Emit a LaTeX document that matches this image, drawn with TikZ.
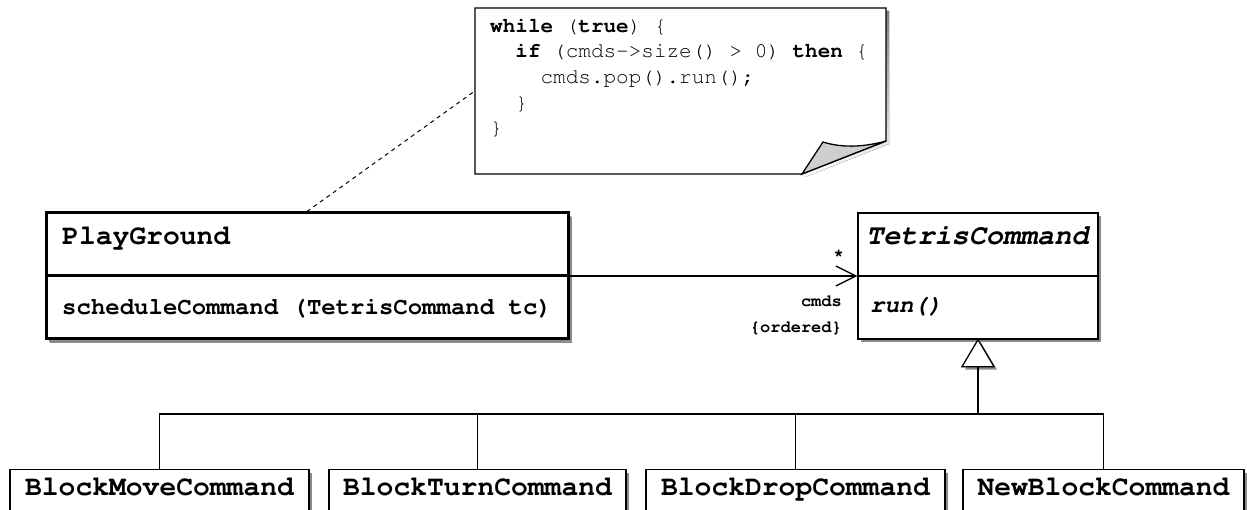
\documentclass[tikz,border=0pt]{standalone}
\usepackage[T1]{fontenc}
\usepackage{courier}
\usetikzlibrary{arrows.meta,shadows}

\definecolor{shade}{HTML}{8A8A8A}
\definecolor{fold}{HTML}{CFCFCF}

\tikzset{
  boxshadow/.style={drop shadow={shadow xshift=3pt,shadow yshift=-3pt,fill=shade,opacity=1}},
  classbox/.style={draw, line width=1.3pt, fill=white, boxshadow, inner sep=0pt},
  mainbox/.style={classbox, line width=3pt, drop shadow={shadow xshift=4pt,shadow yshift=-4pt,fill=shade,opacity=1}},
  subbox/.style={classbox, anchor=north, inner xsep=0pt, inner ysep=9pt, text height=17pt, text depth=40pt,
    font=\ttfamily\bfseries\fontsize{28}{30}\selectfont},
  clsname/.style={anchor=base west, inner sep=0pt, font=\ttfamily\bfseries\fontsize{28}{30}\selectfont},
  opname/.style={anchor=base west, inner sep=0pt, font=\ttfamily\bfseries\fontsize{24}{26}\selectfont},
  codeline/.style={anchor=base west, inner sep=0pt, font=\ttfamily\fontsize{21}{25}\selectfont},
  rolelabel/.style={anchor=base east, inner sep=0pt, font=\ttfamily\bfseries\fontsize{17}{19}\selectfont}
}

\begin{document}
\begin{tikzpicture}[x=1pt,y=-1pt]

            \useasboundingbox (0,0) rectangle (1247,510);

            % note with folded corner
            \node (note) [minimum width=411pt, minimum height=166pt] at (680.5,91) {};
            \fill [shade] (478,11) -- (889,11) -- (889,144) -- (805,177) -- (478,177) -- cycle;
            \draw [line width=1.3pt, fill=white] (475,8) -- (886,8) -- (886,141) -- (802,174) -- (475,174) -- cycle;
            \draw [line width=1.3pt, fill=fold] (802,174) -- (823,142) .. controls (845,149) and (868,146) .. (886,141) -- cycle;

            \node (code1) [codeline] at (490,33) {\textbf{while} (\textbf{true}) \{};
            \node (code2) [codeline] at (490,58) {\phantom{xx}\textbf{if} (cmds->size() > 0) \textbf{then} \{};
            \node (code3) [codeline] at (490,84) {\phantom{xxxx}cmds.pop().run();};
            \node (code4) [codeline] at (490,110) {\phantom{xx}\}};
            \node (code5) [codeline] at (490,135) {\}};

            % classes
            \node (pg) [mainbox, minimum width=522pt, minimum height=126pt] at (307,276) {};
            \draw [line width=3pt] (pg.west) -- (pg.east);
            \node (pgname) [clsname] at (62,245) {PlayGround};
            \node (pgop) [opname] at (62,315) {scheduleCommand (TetrisCommand tc)};

            \node (tc) [classbox, minimum width=240pt, minimum height=126pt] at (978,276) {};
            \draw [line width=1.3pt] (tc.west) -- (tc.east);
            \node (tcname) [clsname, font=\ttfamily\bfseries\itshape\fontsize{28.5}{30}\selectfont] at (866,245) {TetrisCommand};
            \node (tcop) [opname, font=\ttfamily\bfseries\itshape\fontsize{24}{26}\selectfont] at (870,313) {run()};

            \node (bm) [subbox, minimum width=299pt] at (159.5,469) {BlockMoveCommand};
            \node (bt) [subbox, minimum width=297pt] at (477.5,469) {BlockTurnCommand};
            \node (bd) [subbox, minimum width=299pt] at (795.5,469) {BlockDropCommand};
            \node (nb) [subbox, minimum width=281pt] at (1103.5,469) {NewBlockCommand};

            % note link
            \draw [dashed, line width=1pt, dash pattern=on 4pt off 4pt] (pg.north) -- (note.west);

            % association
            \draw [line width=1.3pt, -{Straight Barb[length=20pt,width=20pt]}] (pg.east) -- (tc.west);
            \node (mult) [rolelabel] at (844,258) {*};
            \node (role) [rolelabel] at (842,307) {cmds};
            \node (order) [rolelabel] at (842,333) {\{ordered\}};

            % generalization
            \coordinate (tri) at (978,366);
            \coordinate (bar) at (978,414);
            \draw [line width=1.3pt, fill=white, boxshadow] (tc.south) -- ++(-16,27) -- ++(32,0) -- cycle;
            \draw [line width=2pt] (tri) -- (bar);
            \draw [line width=1.3pt] (bm.north) |- (bar) -| (nb.north);
            \draw [line width=1.3pt] (bt.north) -- (bt.north |- bar);
            \draw [line width=1.3pt] (bd.north) -- (bd.north |- bar);

        \end{tikzpicture}
\end{document}
